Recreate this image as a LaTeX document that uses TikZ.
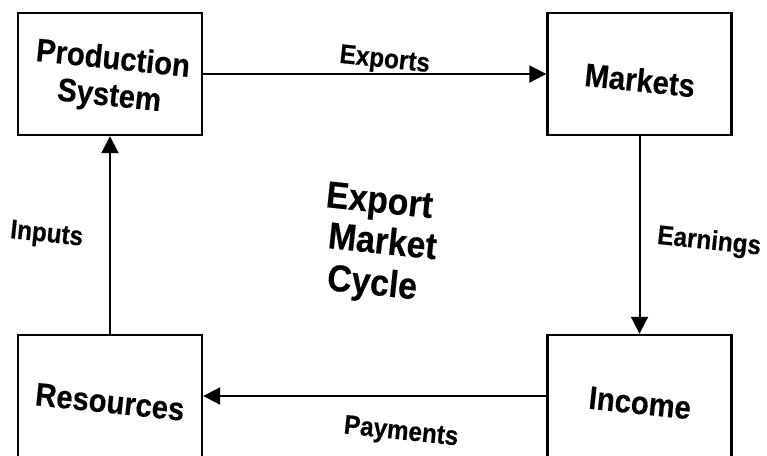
\documentclass[tikz,border=0pt]{standalone}
\usepackage{fontspec}
\setmainfont{Liberation Sans}
\newfontfamily\tallsans{Liberation Sans}[FakeStretch=0.9, FakeBold=0.4]
\usetikzlibrary{arrows.meta}

\tikzset{
  cyclebox/.style={draw, line width=2.4pt, minimum width=184pt, minimum height=122pt, inner sep=0pt},
  boxtext/.style={font=\tallsans\bfseries\fontsize{32.5}{37}\selectfont, align=center, rotate=-6, inner sep=0pt},
  flowlabel/.style={font=\tallsans\bfseries\fontsize{27}{30}\selectfont, rotate=-6, inner sep=0pt},
  titletext/.style={font=\tallsans\bfseries\fontsize{37.5}{42}\selectfont, rotate=-6, inner sep=0pt, anchor=base west},
  flow/.style={line width=2pt, -{Triangle[length=17pt,width=17pt]}},
}

\begin{document}
\begin{tikzpicture}[x=1pt, y=-1pt]
  \useasboundingbox (0,0) rectangle (767,455);
  \clip (0,0) rectangle (767,455);
  % the four stages of the cycle
  \node[cyclebox] (prod) at (110,74)   {};
  \node[cyclebox] (mkt)  at (639.5,74) {};
  \node[cyclebox] (inc)  at (639.5,396) {};
  \node[cyclebox] (res)  at (110,396)  {};
  % box texts
  \node[boxtext] (prodtext) at (111,79)  {Production\\System};
  \node[boxtext] (mkttext)  at (640,80)  {Markets};
  \node[boxtext] (inctext)  at (640,403) {Income};
  \node[boxtext] (restext)  at (110,402) {Resources};
  % flows between stages
  \draw[flow] (prod) -- node[flowlabel, xshift=8.5pt, yshift=14pt] {Exports} (mkt);
  \draw[flow] (mkt) -- node[flowlabel, xshift=70pt] {Earnings} (inc);
  \draw[flow] (inc) -- node[flowlabel, xshift=30pt, yshift=-34pt] {Payments} (res);
  \draw[flow] (res) -- node[flowlabel, xshift=-63pt, yshift=-7pt] {Inputs} (prod);
  % title in the middle, one line at a time
  \node[titletext] (title1) at (325,207) {Export};
  \node[titletext] (title2) at (327,248) {Market};
  \node[titletext] (title3) at (326,290) {Cycle};
\end{tikzpicture}
\end{document}
